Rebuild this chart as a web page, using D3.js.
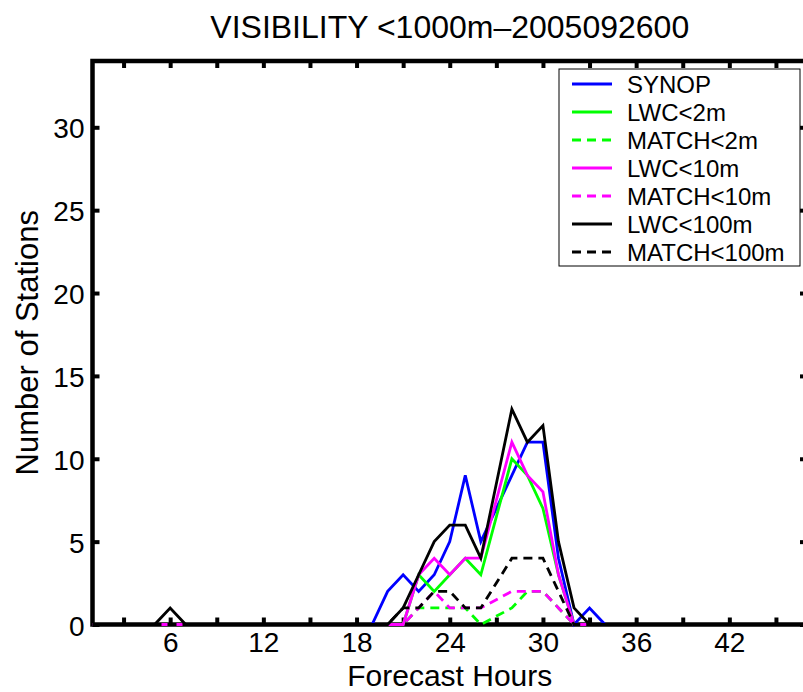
<!DOCTYPE html>
<html>
<head>
<meta charset="utf-8">
<script src="https://cdn.jsdelivr.net/npm/d3@7"></script>
<style>
  html, body { margin: 0; padding: 0; background: #fff; }
  svg { display: block; font-family: "Liberation Sans", Arial, Helvetica, sans-serif; }
</style>
</head>
<body>
<svg id="chart" width="803" height="692"></svg>
<script>
// ---------------- data ----------------
const title = "VISIBILITY <1000m\u20132005092600";
const xLabel = "Forecast Hours";
const yLabel = "Number of Stations";

// forecast hours (hour 27 is absent in the plotted data)
const hours = [1,2,3,4,5,6,7,8,9,10,11,12,13,14,15,16,17,18,19,20,
               21,22,23,24,25,26,
               28,29,30,31,32,33,34,35,36,37,
               38,39,40,41,42,43,44,45,46,47];

const synop    = [0,0,0,0,0,0,0,0,0,0, 0,0,0,0,0,0,0,0,0,2, 3,2,3,5,9,5, 9,11,11,4,0,1,0,0,0,0, 0,0,0,0,0,0,0,0,0,0];
const lwc2     = [0,0,0,0,0,0,0,0,0,0, 0,0,0,0,0,0,0,0,0,0, 0,3,2,3,4,3, 10,9,7,3,0,0,0,0,0,0, 0,0,0,0,0,0,0,0,0,0];
const match2   = [0,0,0,0,0,0,0,0,0,0, 0,0,0,0,0,0,0,0,0,0, 0,1,1,1,1,0, 1,2,2,1,0,0,0,0,0,0, 0,0,0,0,0,0,0,0,0,0];
const lwc10    = [0,0,0,0,0,0,0,0,0,0, 0,0,0,0,0,0,0,0,0,0, 0,3,4,3,4,4, 11,9,8,3,0,0,0,0,0,0, 0,0,0,0,0,0,0,0,0,0];
const match10  = [0,0,0,0,0,0,0,0,0,0, 0,0,0,0,0,0,0,0,0,0, 0,1,2,1,1,1, 2,2,2,1,0,0,0,0,0,0, 0,0,0,0,0,0,0,0,0,0];
const lwc100   = [0,0,0,0,0,1,0,0,0,0, 0,0,0,0,0,0,0,0,0,0, 1,3,5,6,6,4, 13,11,12,5,1,0,0,0,0,0, 0,0,0,0,0,0,0,0,0,0];
const match100 = [0,0,0,0,0,0,0,0,0,0, 0,0,0,0,0,0,0,0,0,0, 1,1,2,2,1,1, 4,4,4,2,0,0,0,0,0,0, 0,0,0,0,0,0,0,0,0,0];

const seriesNames  = ["SYNOP","LWC<2m","MATCH<2m","LWC<10m","MATCH<10m","LWC<100m","MATCH<100m"];
const seriesValues = [synop, lwc2, match2, lwc10, match10, lwc100, match100];
const seriesColors = ["#0000ff","#00ff00","#00ff00","#ff00ff","#ff00ff","#000000","#000000"];
const seriesDashed = [false, false, true, false, true, false, true];

const xTicks = [3,6,9,12,15,18,21,24,27,30,33,36,39,42,45];
const xTickLabels = ["","6","","12","","18","","24","","30","","36","","42",""];
const yTicks = [0,5,10,15,20,25,30];

// ---------------- layout ----------------
const svg = d3.select("#chart");
const L = 92.5, R = 807, T = 61, B = 624.5;
const x = d3.scaleLinear().domain([1, 47]).range([L, R]);
const y = d3.scaleLinear().domain([0, 34]).range([B, T]);

const tickFont = 28, labelFont = 30, yLabelFont = 31, titleFont = 32, legendFont = 24;
const axisW = 4.5, tickLen = 7, lineW = 2.8;

// axes
const fmtX = d => xTickLabels[xTicks.indexOf(d)];
const gB = svg.append("g").attr("transform", `translate(0,${B})`)
  .call(d3.axisBottom(x).tickValues(xTicks).tickFormat(fmtX).tickSizeInner(-tickLen).tickSizeOuter(0).tickPadding(7.5));
const gT = svg.append("g").attr("transform", `translate(0,${T})`)
  .call(d3.axisTop(x).tickValues(xTicks).tickFormat("").tickSizeInner(-tickLen).tickSizeOuter(0));
const gL = svg.append("g").attr("transform", `translate(${L},0)`)
  .call(d3.axisLeft(y).tickValues(yTicks).tickSizeInner(-tickLen).tickSizeOuter(0).tickPadding(8));
const gR = svg.append("g").attr("transform", `translate(${R},0)`)
  .call(d3.axisRight(y).tickValues(yTicks).tickFormat("").tickSizeInner(-tickLen).tickSizeOuter(0));

[gB, gT, gL, gR].forEach(g => {
  g.select(".domain").remove();
  g.selectAll(".tick line").attr("stroke", "#000").attr("stroke-width", 4);
  g.selectAll(".tick text").attr("fill", "#000").attr("font-size", tickFont)
    .attr("font-family", "Liberation Sans, Arial, Helvetica, sans-serif");
});
gL.selectAll(".tick text").attr("dy", "0.38em");

// frame
svg.append("rect")
  .attr("x", L).attr("y", T).attr("width", R - L).attr("height", B - T)
  .attr("fill", "none").attr("stroke", "#000").attr("stroke-width", axisW);

// lines
const line = d3.line().x((d, i) => x(hours[i])).y(d => y(d));
seriesValues.forEach((vals, k) => {
  svg.append("path")
    .datum(vals)
    .attr("d", line)
    .attr("fill", "none")
    .attr("stroke", seriesColors[k])
    .attr("stroke-width", lineW)
    .attr("stroke-linejoin", "miter")
    .attr("stroke-dasharray", seriesDashed[k] ? "9,6" : null);
});

// title and axis labels
svg.append("text").attr("x", (L + R) / 2).attr("y", 38)
  .attr("text-anchor", "middle").attr("font-size", titleFont).attr("fill", "#000").text(title);
svg.append("text").attr("x", (L + R) / 2).attr("y", 685.5)
  .attr("text-anchor", "middle").attr("font-size", labelFont).attr("fill", "#000").text(xLabel);
svg.append("text").attr("transform", `translate(38,${(T + B) / 2}) rotate(-90)`)
  .attr("text-anchor", "middle").attr("font-size", yLabelFont).attr("fill", "#000").text(yLabel);

// legend
const lg = svg.append("g");
lg.append("rect").attr("x", 559).attr("y", 69).attr("width", 241).attr("height", 197)
  .attr("fill", "#fff").attr("stroke", "#000").attr("stroke-width", 1);
seriesNames.forEach((name, k) => {
  const cy = 84 + k * 28;
  lg.append("line").attr("x1", 572).attr("x2", 612).attr("y1", cy).attr("y2", cy)
    .attr("stroke", seriesColors[k]).attr("stroke-width", lineW)
    .attr("stroke-dasharray", seriesDashed[k] ? "9,6" : null);
  lg.append("text").attr("x", 627).attr("y", cy + 9)
    .attr("font-size", legendFont).attr("fill", "#000").text(name);
});
</script>
</body>
</html>
